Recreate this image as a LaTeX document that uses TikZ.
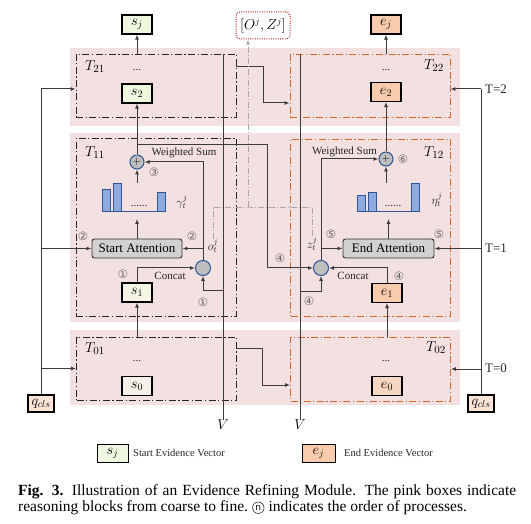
\documentclass[tikz,border=0pt]{standalone}
\usepackage{fontspec}
\setmainfont{Liberation Serif}
\newfontfamily\circfont{DejaVu Sans}
\usetikzlibrary{arrows.meta}

\definecolor{pinkbg}{RGB}{243,224,225}
\definecolor{orangeline}{RGB}{212,104,42}
\definecolor{efill}{RGB}{248,203,173}
\definecolor{e0fill}{RGB}{246,214,192}
\definecolor{sjfill}{RGB}{240,247,225}
\definecolor{s1fill}{RGB}{245,245,230}
\definecolor{s0fill}{RGB}{243,240,232}
\definecolor{qfill}{RGB}{252,228,214}
\definecolor{circfill}{RGB}{190,190,190}
\definecolor{circline}{RGB}{47,85,151}
\definecolor{barfill}{RGB}{143,170,220}
\definecolor{attfill}{RGB}{210,208,208}
\definecolor{linec}{RGB}{60,60,60}
\definecolor{ozline}{RGB}{180,30,30}

\begin{document}
\begin{tikzpicture}[x=1pt, y=-1pt,
    wire/.style={draw=linec, line width=1pt},
    arr/.style={wire, -{Latex[length=5pt,width=4pt]}},
    gline/.style={draw=black!35, line width=0.9pt, dash pattern=on 6pt off 2pt on 1pt off 2pt},
    lblock/.style={draw=black!85, line width=0.9pt, dash pattern=on 7pt off 2.5pt on 1.2pt off 2.5pt, minimum width=160pt, inner sep=0pt},
    rblock/.style={lblock, draw=orangeline},
    vecbox/.style={draw=black, line width=1.1pt, minimum width=30pt, minimum height=19pt, inner sep=0pt, font=\fontsize{14}{14}\selectfont},
    qbox/.style={vecbox, fill=qfill, line width=1.4pt, minimum width=26pt, minimum height=17pt},
    sumc/.style={circle, draw=circline, fill=circfill, line width=1pt, minimum size=14pt, inner sep=0pt, font=\fontsize{11}{11}\selectfont},
    catc/.style={sumc, minimum size=15pt},
    attn/.style={draw=black!80, fill=attfill, rounded corners=2.5pt, line width=0.9pt, minimum height=19pt, inner sep=2pt, font=\fontsize{13}{13}\selectfont},
    bar/.style={fill=barfill, draw=circline, line width=0.6pt},
    tlbl/.style={inner sep=0pt, font=\fontsize{15.5}{15.5}\selectfont},
    lbl/.style={inner sep=0pt, font=\fontsize{11}{11}\selectfont, text=black!85},
    num/.style={inner sep=0pt, font=\circfont\fontsize{11.5}{11.5}\selectfont, text=black!60},
    captxt/.style={inner sep=0pt, font=\fontsize{15.5}{15.5}\selectfont},
    circn/.style={circle, draw=black!85, line width=0.6pt, inner sep=0pt, minimum size=11.5pt, font=\circfont\fontsize{9}{9}\selectfont}]

    \useasboundingbox (0,0) rectangle (531,524);

    % Pink rows of reasoning blocks
    \fill[pinkbg] (70,48) rectangle (460,126);
    \fill[pinkbg] (70,133) rectangle (460,322);
    \fill[pinkbg] (70,330) rectangle (460,405);

    % Draw blocks
    \node[lblock, minimum height=63pt] (T21) at (156,85.5) {};
    \node[lblock, minimum height=178pt] (T11) at (156,227) {};
    \node[lblock, minimum height=63pt] (T01) at (156.5,368.5) {};
    \node[rblock, minimum height=63pt] (T22) at (370,85.5) {};
    \node[rblock, minimum height=177pt] (T12) at (370.5,227.5) {};
    \node[rblock, minimum height=64pt] (T02) at (370.5,369) {};

    \node[tlbl] (n21) at (95,67) {$T_{21}$};
    \node[tlbl] (n11) at (95,153) {$T_{11}$};
    \node[tlbl] (n01) at (95,349) {$T_{01}$};
    \node[tlbl] (n22) at (434,66) {$T_{22}$};
    \node[tlbl] (n12) at (434,153) {$T_{12}$};
    \node[tlbl] (n02) at (436,348) {$T_{02}$};

    % Draw evidence vectors
    \node[vecbox, fill=sjfill] (sj) at (137,24.5) {$s_j$};
    \node[vecbox, fill=sjfill] (s2) at (137,93.5) {$s_2$};
    \node[vecbox, fill=s1fill] (s1) at (137,292.5) {$s_1$};
    \node[vecbox, fill=s0fill] (s0) at (137,386) {$s_0$};
    \node[vecbox, fill=efill] (ej) at (386,24.5) {$e_j$};
    \node[vecbox, fill=efill] (e2) at (386,92) {$e_2$};
    \node[vecbox, fill=efill] (e1) at (387,293) {$e_1$};
    \node[vecbox, fill=e0fill] (e0) at (387,386) {$e_0$};

    \node[lbl] (d21) at (137,70) {...};
    \node[lbl] (d01) at (137,361) {...};
    \node[lbl] (d22) at (386,70) {...};
    \node[lbl] (d02) at (386,361) {...};

    % Draw sums, concats and attentions
    \node[sumc] (sum1) at (137,162) {$+$};
    \node[sumc] (sum2) at (386,159) {$+$};
    \node[catc] (cat1) at (203,268) {};
    \node[catc] (cat2) at (321,268) {};
    \node[attn, minimum width=90pt] (att1) at (137,248.5) {Start Attention};
    \node[attn, minimum width=91pt] (att2) at (388.5,248.5) {End Attention};

    % Attention weights
    \filldraw[bar] (102,189) rectangle (110,211);
    \filldraw[bar] (113,183) rectangle (121,211);
    \filldraw[bar] (157,192) rectangle (165,211);
    \draw[circline, line width=0.8pt] (102,211) -- (165,211);
    \node[lbl] (w1) at (139,206) {......};
    \filldraw[bar] (357,195) rectangle (365,211);
    \filldraw[bar] (368,192) rectangle (376,211);
    \filldraw[bar] (411,183) rectangle (419,211);
    \draw[circline, line width=0.8pt] (357,211) -- (419,211);
    \node[lbl] (w2) at (393,206) {......};

    \node[lbl, font=\fontsize{12}{12}\selectfont] (gl) at (182,202) {$\gamma_t^j$};
    \node[lbl, font=\fontsize{12}{12}\selectfont] (hl) at (437,200) {$\eta_t^j$};
    \node[lbl, font=\fontsize{12}{12}\selectfont] (ol) at (213,246) {$o_t^j$};
    \node[lbl, font=\fontsize{12}{12}\selectfont] (zl) at (312,244) {$z_t^j$};
    \node[lbl] (ws1) at (184,153) {Weighted Sum};
    \node[lbl] (ws2) at (344.5,152) {Weighted Sum};
    \node[lbl] (ct1) at (170,276) {Concat};
    \node[lbl] (ct2) at (353,276) {Concat};

    % Outputs and inputs
    \node[draw=ozline, line width=1pt, dash pattern=on 1pt off 1.3pt, rounded corners=4pt, minimum width=54pt, minimum height=27pt, inner sep=0pt, font=\fontsize{13.5}{13.5}\selectfont] (oz) at (263,25.5) {$[O^j,Z^j]$};
    \node[qbox] (q1) at (41,403.5) {$q_{cls}$};
    \node[qbox] (q2) at (481,403.5) {$q_{cls}$};
    \node[tlbl] (vl) at (223,425) {$V$};
    \node[tlbl] (vr) at (300,425) {$V$};
    \node[lbl, anchor=west, font=\fontsize{13}{13}\selectfont] (t2) at (485,89) {T=2};
    \node[lbl, anchor=west, font=\fontsize{13}{13}\selectfont] (t1) at (485,248) {T=1};
    \node[lbl, anchor=west, font=\fontsize{13}{13}\selectfont] (t0) at (485,368) {T=0};

    % Process order
    \node[num] (o1a) at (123,274) {①};
    \node[num] (o1b) at (203,302) {①};
    \node[num] (o2a) at (83,236) {②};
    \node[num] (o2b) at (192,236) {②};
    \node[num] (o3) at (154,172) {③};
    \node[num] (o4a) at (280,258) {④};
    \node[num] (o4b) at (399,276) {④};
    \node[num] (o4c) at (309,301) {④};
    \node[num] (o5a) at (331,234) {⑤};
    \node[num] (o5b) at (439,234) {⑤};
    \node[num] (o6) at (403,159) {⑥};

    \coordinate (js) at (137,145);
    \coordinate (jz) at (267,268);
    \coordinate (vlt) at (223,54);
    \coordinate (vrt) at (300,54);
    \coordinate (jvl) at (223,291);
    \coordinate (jvr) at (300,292);
    \coordinate (bt1) at (137,183);
    \coordinate (bb1) at (137,219);
    \coordinate (bt2) at (386,183);
    \coordinate (bb2) at (388.5,219);
    \coordinate (ql) at (41,89);
    \coordinate (qr) at (481,89);
    \coordinate (gj) at (248,207);

    % Draw start side connectors
    \draw[arr] (sj |- T21.north) -- (sj);
    \draw[arr] (sum1) -- (s2);
    \draw[arr] (bt1) -- (sum1);
    \draw[arr] (att1) -- (bb1);
    \draw[arr] (s1.north) |- (cat1);
    \draw[arr] (cat1) |- (sum1);
    \draw[arr] (cat1 |- att1) -- (att1);
    \draw[wire] (vlt) -- (vl);
    \draw[arr] (jvl) -| (cat1);
    \draw[arr] (s1 |- T01.north) -- (s1);
    \draw[wire] (q1) -- (ql);
    \draw[arr] (ql) -- (ql -| T21.west);
    \draw[arr] (q1 |- att1) -- (att1);
    \draw[arr] (q1 |- T01.west) -- (T01);

    % Draw end side connectors
    \draw[arr] (ej |- T22.north) -- (ej);
    \draw[arr] (sum2) -- (e2);
    \draw[arr] (bt2) -- (sum2);
    \draw[arr] (att2) -- (bb2);
    \draw[arr] (e1.north) |- (cat2);
    \draw[arr] (cat2) |- (sum2);
    \draw[arr] (cat2 |- att2) -- (att2);
    \draw[wire] (vrt) -- (vr);
    \draw[arr] (jvr) -| (cat2);
    \draw[arr] (e1 |- T02.north) -- (e1);
    \draw[wire] (q2) -- (qr);
    \draw[arr] (qr) -- (qr -| T22.east);
    \draw[arr] (q2 |- att2) -- (att2);
    \draw[arr] (q2 |- T02.east) -- (T02);

    % Draw links from start to end
    \draw[arr] (js) -| (jz) -- (cat2);
    \draw[arr] ([yshift=18.5pt]T21.east) -| ++(27,36) -- ([yshift=-17.5pt]T22.west);
    \draw[arr] ([yshift=19.5pt]T01.east) -| ++(26,36) -- ([yshift=-16pt]T02.west);
    \draw[gline] (ol.north) |- (gj) -| (zl.north);
    \draw[gline, -{Latex[length=5pt,width=4pt]}] (gj) -- (gj |- oz.south);

    % Legend and caption
    \node[vecbox, fill=sjfill, line width=0.8pt, minimum width=31pt, minimum height=18pt] (legs) at (112.5,453) {$s_j$};
    \node[lbl, anchor=west, font=\fontsize{10.5}{10.5}\selectfont] (legst) at (133,453) {Start Evidence Vector};
    \node[vecbox, fill=efill, line width=0.8pt, minimum width=33pt, minimum height=18pt] (lege) at (318.5,453) {$e_j$};
    \node[lbl, anchor=west, font=\fontsize{10.5}{10.5}\selectfont] (leget) at (344,453) {End Evidence Vector};
    \node[captxt, anchor=base west] (cap1) at (18,495) {\makebox[498pt][s]{\textbf{Fig. 3.} Illustration of an Evidence Refining Module. The pink boxes indicate}};
    \node[captxt, anchor=base west] (cap2) at (18,511) {reasoning blocks from coarse to fine.};
    \node[circn, anchor=west] (cn) at ([xshift=4pt, yshift=-0.5pt]cap2.east) {n};
    \node[captxt, anchor=base west] (cap3) at ([xshift=4pt]cn.east |- cap2.base) {indicates the order of processes.};
\end{tikzpicture}
\end{document}
